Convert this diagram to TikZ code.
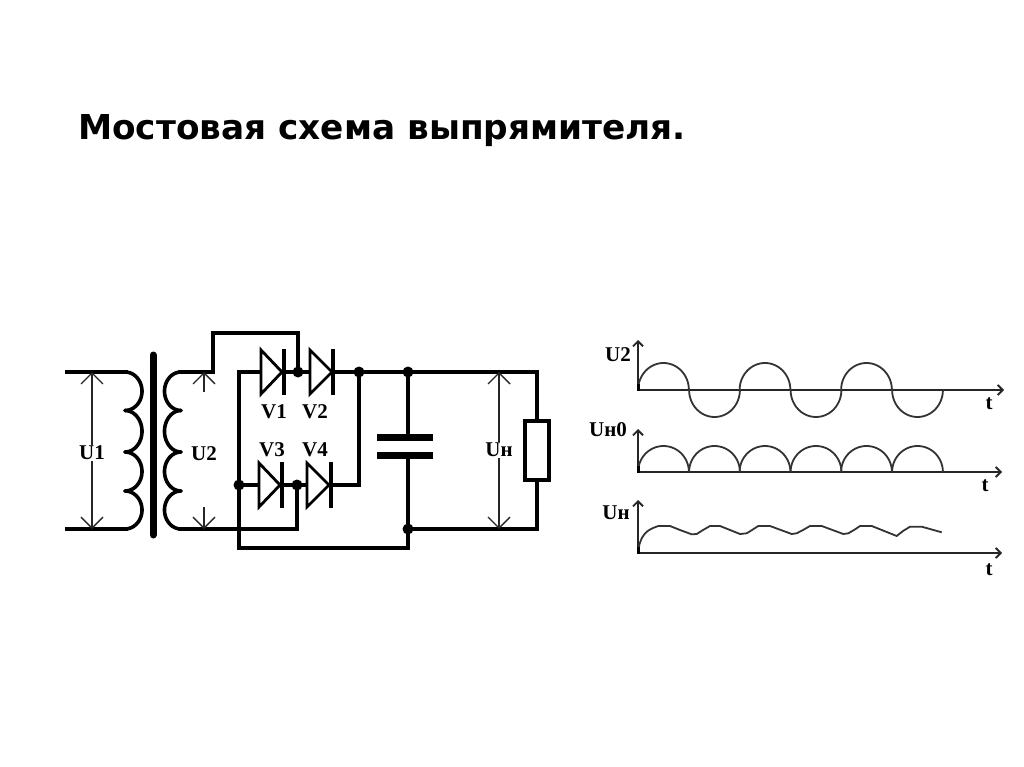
\documentclass[tikz,border=0pt]{standalone}
\usepackage{fontspec}
\setmainfont{Liberation Serif}
\newfontfamily\titlefont{DejaVu Sans}
\usetikzlibrary{arrows.meta}
\tikzset{
  wire/.style={line width=3.6pt,line join=miter,black},
  lab/.style={font=\bfseries\fontsize{21}{21}\selectfont,inner sep=1pt,text=black},
  gl/.style={font=\bfseries\fontsize{21}{21}\selectfont,inner sep=0pt,text=black},
  dim/.style={line width=1.4pt,black!85,{Straight Barb[length=11pt,width=22pt]}-{Straight Barb[length=11pt,width=22pt]}},
  dimhalf/.style={line width=1.4pt,black!85,-{Straight Barb[length=11pt,width=22pt]}},
  axis/.style={line width=1.8pt,black!85,-{Straight Barb[length=5pt,width=10pt]}},
  curve/.style={line width=1.8pt,black!80,line join=round},
  dot/.style={circle,fill=black,inner sep=0pt,minimum size=11pt},
  diodetri/.style={line width=2.8pt,black,line join=miter},
  diodebar/.style={line width=3.6pt,black},
  plate/.style={fill=black,draw=none},
}
\newcommand{\diode}[6]{% name, tri-left, tri-right, y-mid, half-h, bar x
  \coordinate (#1-a) at (#2,#4);
  \coordinate (#1-k) at (#6,#4);
  \draw[diodetri] (#2,#4-#5) -- (#3,#4) -- (#2,#4+#5) -- cycle;
  \draw[diodebar] (#6,#4-23) -- (#6,#4+23);
}
\begin{document}
\begin{tikzpicture}[x=1pt,y=-1pt]
\useasboundingbox (0,0) rectangle (1024,767);
\fill[white] (0,0) rectangle (1024,767);
\node[anchor=base west,inner sep=0pt,font=\titlefont\bfseries\fontsize{34.3}{34.3}\selectfont,text=black] (title) at (78,139.5) {Мостовая схема выпрямителя.};

% junctions
\coordinate (pin-t) at (65,372);
\coordinate (pin-b) at (65,529);
\coordinate (pc-t) at (128,372);
\coordinate (pc-b) at (128,529);
\coordinate (sc-t) at (178,372);
\coordinate (sc-b) at (178,529);
\coordinate (s1) at (213,372);
\coordinate (s2) at (213,333);
\coordinate (s3) at (298,333);
\node[dot] (jtop) at (298,372) {};
\node[dot] (jbot) at (297,485) {};
\node[dot] (jleft) at (239,485) {};
\coordinate (ltop) at (239,372);
\coordinate (lbot) at (239,548);
\node[dot] (jr) at (359,372) {};
\coordinate (jr2) at (359,485);
\node[dot] (jc) at (408,372) {};
\node[dot] (jcb) at (408,529) {};
\coordinate (cb) at (408,548);
\coordinate (rt) at (537,372);
\coordinate (rb) at (537,529);
\coordinate (c1) at (408,437);
\coordinate (c2) at (408,455);
\coordinate (bot297) at (297,529);

% core
\draw[line width=7pt,line cap=round,black] (153,355) -- (153,535);

% primary and secondary wires
\draw[wire] (pin-t) -- (pc-t);
\draw[wire] (pin-b) -- (pc-b);
\draw[wire] (sc-t) -- (s1) -- (s2) -- (s3) -- (jtop.center);
\draw[wire] (sc-b) -- (bot297) -- (jbot.center);

% coils
\foreach \a/\b in {372/410.5,410.5/452,452/491,491/529}{
  \draw[wire,line cap=round] plot[domain=0:180,samples=30,smooth] ({125+17*sin(\x)},{(\a+\b)/2-(\b-\a)/2*cos(\x)});
  \draw[wire,line cap=round] plot[domain=0:180,samples=30,smooth] ({181-16.5*sin(\x)},{(\a+\b)/2-(\b-\a)/2*cos(\x)});
}

% diodes
\diode{V1}{261}{282}{372}{22}{284}
\diode{V2}{310}{332}{372}{22}{333}
\diode{V3}{259}{280}{485}{22}{282}
\diode{V4}{307}{329}{485}{22}{331}

% bridge wires
\draw[wire] (V1-a) -- (ltop) -- (lbot) -- (cb) -- (jcb.center);
\draw[wire] (V1-k) -- (V2-a);
\draw[wire] (V3-k) -- (V4-a);
\draw[wire] (jleft.center) -- (V3-a);
\draw[wire] (V2-k) -- (jr.center) -- (jc.center) -- (rt) -- (537,419);
\draw[wire] (jr.center) -- (jr2) -- (V4-k);

% capacitor
\draw[wire] (jc.center) -- (c1);
\draw[wire] (c2) -- (jcb.center);
\draw[wire] (jcb.center) -- (rb) -- (537,482);
\fill[plate] (377,433.5) rectangle (433,440.5);
\fill[plate] (377,451.5) rectangle (433,458.5);

% load resistor
\node[draw=black,line width=3.6pt,fill=white,minimum width=24.4pt,minimum height=59.4pt,inner sep=0pt] (rload) at (537,450.5) {};

% voltage arrows
\coordinate (u1t) at (92,372);
\coordinate (u1b) at (92,529);
\coordinate (u2t) at (204,372);
\coordinate (u2tb) at (204,392);
\coordinate (u2b) at (204,529);
\coordinate (u2bt) at (204,507);
\coordinate (unt) at (499,372);
\coordinate (unb) at (499,529);
\draw[dim] (u1t) -- (u1b);
\draw[dim] (unt) -- (unb);
\draw[dimhalf] (u2tb) -- (u2t);
\draw[dimhalf] (u2bt) -- (u2b);
\node[lab,fill=white] (lu1) at (92,453) {U1};
\node[lab,fill=white] (ln) at (499,450) {Uн};
\node[lab] (lu2) at (204,454) {U2};
\node[lab] (lv1) at (274,412) {V1};
\node[lab] (lv2) at (315,412) {V2};
\node[lab] (lv3) at (272,450) {V3};
\node[lab] (lv4) at (315,450) {V4};

% graph 1
\coordinate (g1o) at (638,390);
\coordinate (g1y) at (638,340);
\coordinate (g1x) at (1004,390);
\draw[axis] (g1o) -- (g1y);
\draw[axis] (g1o) -- (g1x);
\foreach \c/\s in {663.5/-1,714.5/1,765/-1,816/1,866.5/-1,917.5/1}{
  \draw[curve] plot[domain=0:180,samples=40] ({\c-25.4*cos(\x)},{390+\s*27*sin(\x)});
}
\node[gl] (tu2) at (618,355) {U2};
\node[gl] (tt1) at (989,404) {t};

% graph 2
\coordinate (g2o) at (638,472);
\coordinate (g2y) at (638,429);
\coordinate (g2x) at (1002,472);
\draw[axis] (g2o) -- (g2y);
\draw[axis] (g2o) -- (g2x);
\foreach \c in {663.5,714.5,765,816,866.5,917.5}{
  \draw[curve] plot[domain=0:180,samples=40] ({\c-25.4*cos(\x)},{472-26*sin(\x)});
}
\node[gl] (tu0) at (608,430) {Uн0};
\node[gl] (tt2) at (985,486) {t};

% graph 3
\coordinate (g3o) at (638,553);
\coordinate (g3y) at (638,500);
\coordinate (g3x) at (1002,553);
\draw[axis] (g3o) -- (g3y);
\draw[axis] (g3o) -- (g3x);
\draw[curve] (638,553) -- (639.5,544) -- (641.7,538.3) -- (644.5,534) -- (648.3,530.5) -- (653,528) -- (658.3,526) -- (670,526) -- (680,530) -- (691.7,534.3) -- (696.7,534) -- (703,530) -- (710,526) -- (720,526) -- (740,534) -- (746.7,533.3) -- (752,530) -- (758.3,526) -- (770,526) -- (791.7,534) -- (796.7,533.3) -- (803,530) -- (810,526) -- (821.7,526) -- (843.3,534) -- (848.3,533.3) -- (854,530) -- (860,526) -- (871.7,526) -- (896.7,536) -- (903,531) -- (910,526.7) -- (921.7,526.7) -- (941.7,532.3);
\node[gl] (tun) at (616,513) {Uн};
\node[gl] (tt3) at (989,570) {t};

% axis origins
\fill[black] (636.5,384) rectangle (640,391);
\fill[black] (636.5,466) rectangle (640,473);
\fill[black] (636.5,547) rectangle (640,554);
\end{tikzpicture}
\end{document}
